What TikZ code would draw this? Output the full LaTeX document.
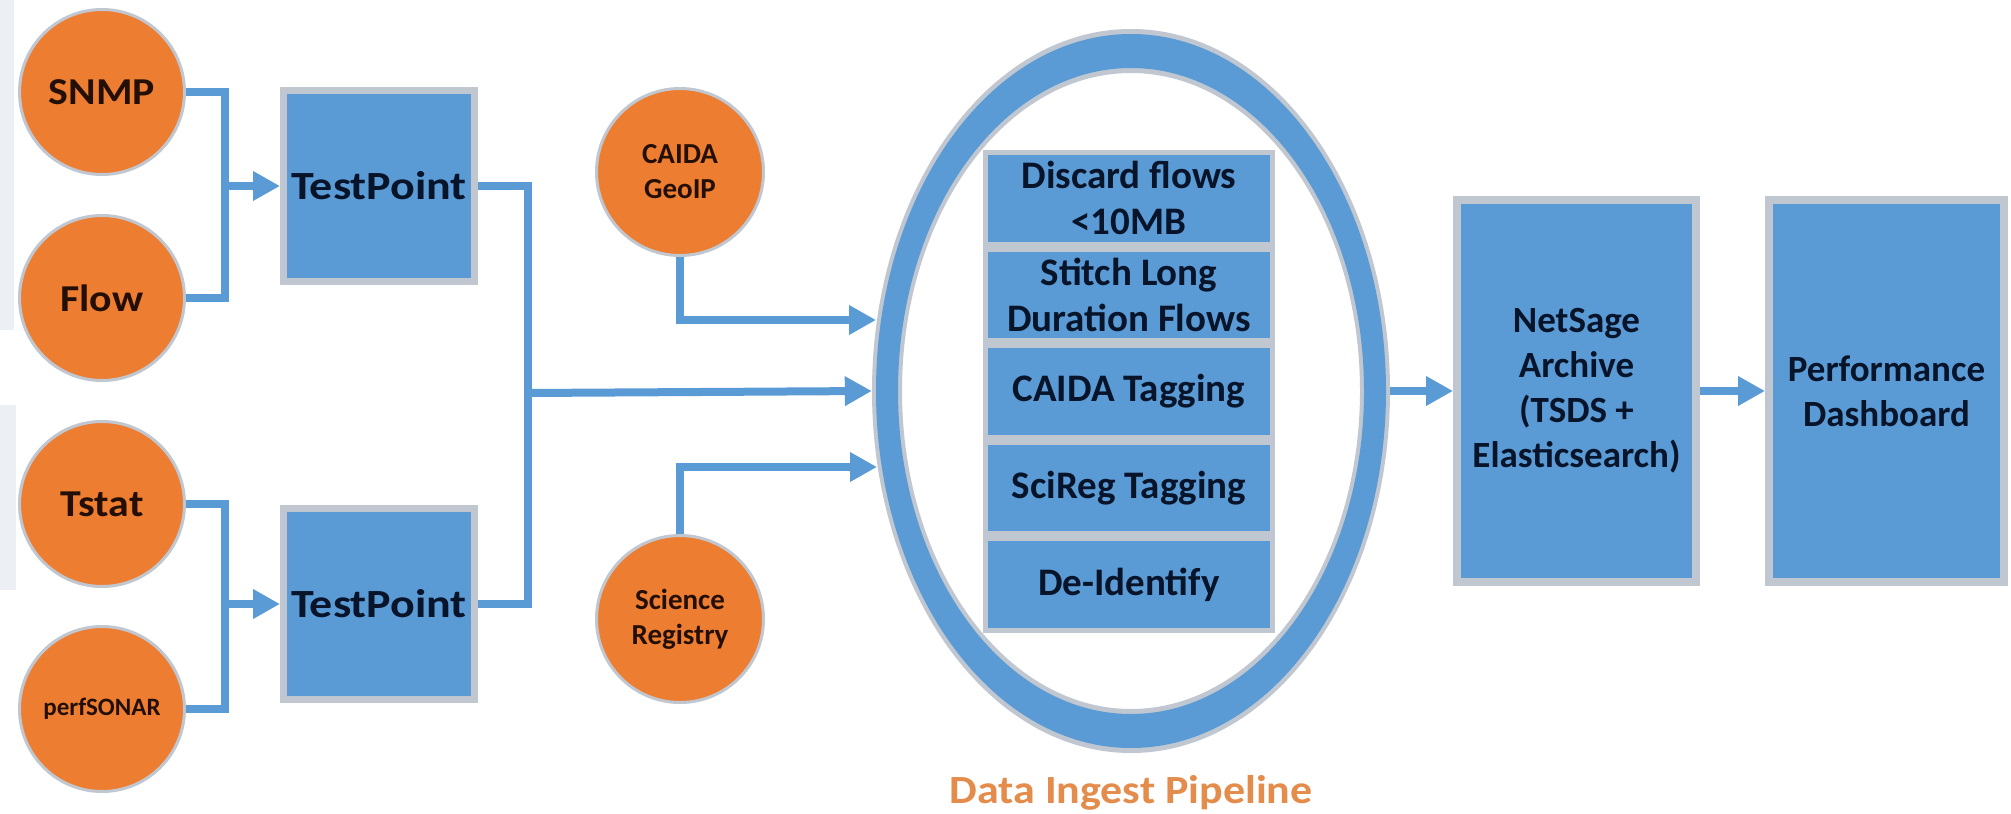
\documentclass[tikz,border=0pt]{standalone}
\usepackage{fontspec}
\setmainfont{Carlito}
\newfontfamily\widefont[FakeStretch=1.1]{Carlito}
\newfontfamily\widerfont[FakeStretch=1.15]{Carlito}
\usetikzlibrary{arrows.meta,shapes.geometric}
\definecolor{srcor}{RGB}{237,125,49}
\definecolor{boxblue}{RGB}{91,155,213}
\definecolor{edgegray}{RGB}{192,199,208}
\definecolor{srctext}{RGB}{35,15,5}
\definecolor{boxtext}{RGB}{8,20,42}
\definecolor{lblor}{RGB}{228,140,75}
\definecolor{faint}{RGB}{236,239,244}
\begin{document}
\begin{tikzpicture}[x=1pt,y=-1pt,
  src/.style={circle, fill=srcor, draw=edgegray, line width=3pt, inner sep=0pt,
    minimum size=165pt, text=srctext, align=center},
  srcbig/.style={src, font=\widefont\fontsize{38}{44}\selectfont\bfseries},
  srcsmall/.style={src, minimum size=167pt, font=\fontsize{29}{35}\selectfont\bfseries},
  tpbox/.style={rectangle, fill=boxblue, draw=edgegray, line width=7pt, inner sep=0pt,
    minimum width=191pt, minimum height=191pt, text=boxtext,
    font=\widerfont\fontsize{40}{46}\selectfont\bfseries},
  stage/.style={rectangle, fill=boxblue, draw=edgegray, line width=5pt, inner sep=0pt,
    minimum width=287pt, minimum height=91.6pt, text=boxtext, align=center,
    font=\fontsize{39}{46}\selectfont\bfseries},
  bigbox/.style={rectangle, fill=boxblue, draw=edgegray, line width=8pt, inner sep=0pt,
    minimum height=382pt, text=boxtext, align=center,
    font=\fontsize{37}{45}\selectfont\bfseries},
  wire/.style={draw=boxblue, line width=8pt},
  arr/.style={wire, -{Triangle[length=27pt,width=28pt]}}
]
\useasboundingbox (0,0) rectangle (2011,814);
\fill[white] (0,0) rectangle (2011,814);
% faint strips at the left edge
\fill[faint] (0,0) rectangle (14,330);
\fill[faint] (0,405) rectangle (16,590);

% sources
\node[srcbig] (snmp) at (102,92) {SNMP};
\node[srcbig] (flow) at (102,298) {Flow};
\node[srcbig] (tstat) at (102,504) {Tstat};
\node[src, font=\fontsize{25}{30}\selectfont\bfseries] (perf) at (102,709) {perfSONAR};

% test points
\node[tpbox] (tp1) at (379,186) {TestPoint};
\node[tpbox] (tp2) at (379,604) {TestPoint};

\coordinate (j1) at (225,186);
\coordinate (j2) at (225,604);
\coordinate (m) at (528,393);

\draw[wire] (snmp.east) -| (j1) |- (flow.east);
\draw[arr] (j1) -- (tp1.west);
\draw[wire] (tstat.east) -| (j2) |- (perf.east);
\draw[arr] (j2) -- (tp2.west);

% enrichment sources
\node[srcsmall] (caida) at (680,172) {CAIDA\\GeoIP};
\node[srcsmall] (scireg) at (680,619) {Science\\Registry};

% pipeline ring
\fill[edgegray, even odd rule] (1131,391) ellipse [x radius=259, y radius=362]
  (1131,391) ellipse [x radius=229, y radius=318];
\fill[boxblue, even odd rule] (1131,391) ellipse [x radius=255, y radius=357]
  (1131,391) ellipse [x radius=233, y radius=323];
\node[ellipse, minimum width=518pt, minimum height=724pt, inner sep=0pt] (pipe) at (1131,391) {};

\node[stage] (s1) at (1129,198.3) {Discard flows\\<10MB};
\node[stage] (s2) at (1129,294.9) {Stitch Long\\Duration Flows};
\node[stage] (s3) at (1129,391.5) {CAIDA Tagging};
\node[stage] (s4) at (1129,488.1) {SciReg Tagging};
\node[stage] (s5) at (1129,584.7) {De-Identify};

\node[text=lblor, font=\widefont\fontsize{40}{46}\selectfont\bfseries] (lbl) at (1131,793) {Data Ingest Pipeline};

% connectors into pipeline
\coordinate (in1) at (876,320);
\coordinate (in3) at (877,467);
\draw[wire] (tp1.east) -| (m) |- (tp2.east);
\draw[arr] (m) -- (pipe.west);
\draw[arr] (caida.south) |- (in1);
\draw[arr] (scireg.north) |- (in3);

% archive and dashboard
\node[bigbox, minimum width=239pt] (arch) at (1576.5,391) {NetSage\\Archive\\(TSDS +\\Elasticsearch)};
\node[bigbox, minimum width=235pt] (dash) at (1886.5,391) {Performance\\Dashboard};

\draw[arr] (pipe.east) -- (arch.west);
\draw[arr] (arch.east) -- (dash.west);
\end{tikzpicture}
\end{document}
